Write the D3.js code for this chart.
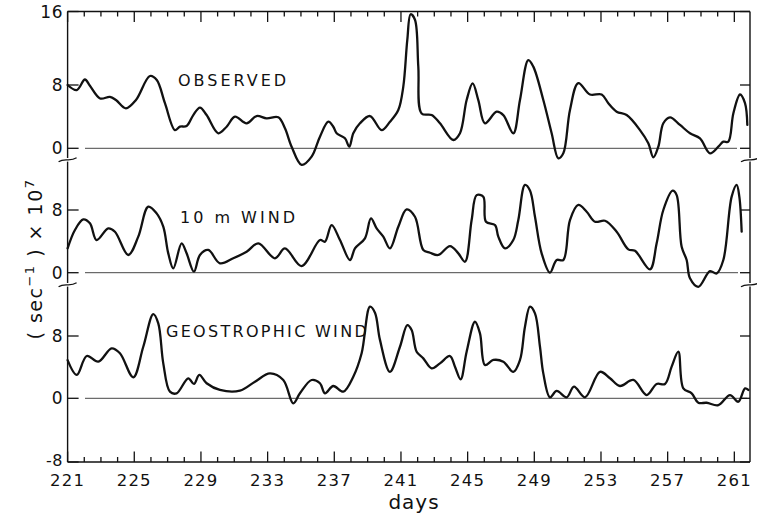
<!DOCTYPE html>
<html><head><meta charset="utf-8">
<script src="https://cdn.jsdelivr.net/npm/d3@7"></script>
<style>
html,body{margin:0;padding:0;background:#fff;}
text{font-family:"DejaVu Sans",sans-serif;fill:#111;}
</style></head>
<body>
<svg id="c" width="757" height="516"></svg>
<script>
// ---- data ----
const xTickLabels = [221,225,229,233,237,241,245,249,253,257,261];
const panelNames = ["OBSERVED","10 m WIND","GEOSTROPHIC WIND"];
const topTicks = [0,8,16];
const midTicks = [0,8];
const botTicks = [-8,0,8];

const observed = [[221,8.0],[221.55,7.35],[222.04,8.6],[222.34,7.9],[222.95,6.3],[223.54,6.5],[223.9,6.1],[224.5,5.05],[225.1,6.1],[225.94,8.98],[226.35,8.54],[226.84,5.7],[227.44,2.3],[227.74,2.73],[228.14,2.82],[228.54,4.2],[228.94,5.15],[229.34,4.2],[230.04,1.9],[230.54,2.73],[231.04,4.0],[231.74,3.16],[232.34,4.08],[232.94,3.79],[233.64,3.92],[234.04,2.53],[234.44,0.2],[235.04,-2.1],[235.64,-1.06],[236.14,1.47],[236.64,3.36],[236.94,2.73],[237.14,1.9],[237.64,1.26],[237.9,0.2],[238.14,1.9],[238.54,3.16],[239.14,4.08],[239.84,2.3],[240.34,3.36],[240.84,4.84],[241.14,7.8],[241.38,12.9],[241.58,15.7],[241.84,15.1],[242.04,10],[242.24,4.4],[242.84,4.2],[243.34,3.16],[244.14,1.05],[244.54,1.9],[244.94,6.1],[245.3,8.18],[245.64,6.1],[246.04,3.16],[246.74,4.63],[247.14,4.2],[247.74,1.9],[248.14,6.1],[248.64,10.7],[248.94,10],[249.54,6.1],[250.04,1.9],[250.44,-1.26],[250.74,-0.63],[251.14,4.84],[251.64,8.2],[252.34,6.8],[253.04,6.8],[253.44,5.7],[253.94,4.63],[254.54,4.2],[255.34,2.3],[255.84,0.63],[256.14,-1.14],[256.44,0.2],[256.74,3.16],[257.14,3.92],[257.74,2.95],[258.34,1.9],[258.94,1.26],[259.54,-0.63],[260.04,0.2],[260.34,0.84],[260.64,0.84],[260.94,4.4],[261.34,6.8],[261.64,5.7],[261.78,2.95]];

const wind10m = [[221,3.1],[221.44,5.45],[221.94,6.8],[222.34,6.3],[222.74,4.17],[223.44,5.66],[223.84,5.23],[224.64,2.26],[225.24,4.6],[225.84,8.42],[226.34,7.57],[226.74,5.87],[227.04,2.47],[227.34,0.56],[227.84,3.75],[228.14,2.47],[228.58,0.13],[228.94,2.26],[229.44,2.9],[230.14,1.2],[230.94,1.84],[231.74,2.68],[232.44,3.75],[233.44,1.84],[234.04,3.1],[235.04,0.85],[236.14,4.17],[236.44,3.96],[236.84,6.08],[237.34,4.17],[237.94,1.62],[238.24,3.1],[238.84,4.39],[239.2,6.94],[239.54,5.66],[239.94,4.6],[240.34,3.1],[240.84,5.87],[241.34,8.08],[241.84,7.14],[242.34,2.9],[242.74,2.55],[243.24,2.26],[243.94,3.4],[244.44,2.47],[244.84,1.4],[245.24,6.72],[245.54,9.9],[245.94,9.7],[246.1,6.5],[246.64,6.08],[246.84,4.6],[247.24,3.1],[247.74,4.17],[248.04,6.72],[248.44,11.2],[248.74,10.5],[249.04,7.14],[249.44,2.47],[249.94,0],[250.34,1.62],[250.74,1.62],[251.14,6.72],[251.64,8.64],[252.14,7.78],[252.64,6.5],[253.24,6.63],[253.94,5.23],[254.64,2.98],[255.04,2.8],[255.94,0.43],[256.34,3.75],[256.74,8.0],[257.3,10.46],[257.54,9.9],[257.84,3.3],[258.14,1.62],[258.34,-0.72],[258.84,-1.8],[259.54,0.2],[259.94,-0.1],[260.34,1.62],[260.84,9.7],[261.14,11.2],[261.3,9.7],[261.44,5.23]];

const geostrophic = [[221,4.9],[221.55,3.0],[222.15,5.43],[222.84,4.7],[223.64,6.42],[224.14,5.78],[224.94,2.7],[225.54,6.62],[226.14,10.82],[226.44,9.63],[226.74,4.49],[227.14,0.85],[227.54,0.64],[228.24,2.57],[228.58,1.84],[228.9,3.0],[229.34,1.93],[230.14,1.07],[231.34,0.98],[232.24,2.13],[233.14,3.2],[233.94,2.35],[234.54,-0.64],[234.94,0.64],[235.64,2.35],[236.14,1.93],[236.44,0.64],[236.94,1.58],[237.54,0.85],[238.14,2.77],[238.64,5.78],[239.14,11.76],[239.44,11.0],[239.74,7.5],[240.34,3.4],[240.94,6.62],[241.38,9.4],[241.64,8.77],[241.94,5.98],[242.34,5.13],[242.84,3.85],[243.34,4.49],[243.94,5.43],[244.24,4.06],[244.58,2.44],[244.94,5.98],[245.44,9.83],[245.74,8.34],[246.04,4.27],[246.54,4.92],[247.14,4.7],[247.74,3.4],[248.14,4.92],[248.44,9.2],[248.74,11.76],[249.04,10.9],[249.34,6.62],[249.54,3.2],[249.94,0.13],[250.34,0.94],[250.94,0.13],[251.38,1.5],[252.04,0.13],[252.94,3.4],[253.54,2.57],[254.14,1.58],[254.94,2.35],[255.74,0.42],[256.34,1.84],[256.84,1.84],[257.24,4.06],[257.64,5.98],[257.94,1.28],[258.44,0.64],[258.84,-0.56],[259.34,-0.56],[260.04,-0.86],[260.74,0.42],[261.24,-0.43],[261.64,1.28],[261.84,1.07]];

// ---- layout ----
const svg = d3.select("#c");
const L = 67.6, R = 750, T = 11.5, B = 462;
const x = d3.scaleLinear().domain([221, 261.94]).range([L, R]);

const panels = [
  {name: panelNames[0], data: observed, ticks: topTicks,
   y: d3.scaleLinear().domain([0, 8, 16]).range([148.3, 85, T]),
   label: {x: 178, y: 86, ls: 3}, zeroEnd: 737},
  {name: panelNames[1], data: wind10m, ticks: midTicks,
   y: d3.scaleLinear().domain([0, 8]).range([272.7, 210]),
   label: {x: 180, y: 222.7, ls: 3}, zeroEnd: 738},
  {name: panelNames[2], data: geostrophic, ticks: botTicks,
   y: d3.scaleLinear().domain([-8, 0, 8]).range([B, 398.3, 336]),
   label: {x: 166, y: 337.3, ls: 2.3}, zeroEnd: 747}
];

const ink = "#111";
const breaks = [159.8, 284.8];

// frame top & bottom
svg.append("line").attr("x1", L).attr("x2", R).attr("y1", T).attr("y2", T)
  .attr("stroke", ink).attr("stroke-width", 1.4);
svg.append("line").attr("x1", L).attr("x2", R).attr("y1", B).attr("y2", B)
  .attr("stroke", ink).attr("stroke-width", 1.4);

// side axes broken at panel boundaries
const segs = [[T, breaks[0] - 1.8], [breaks[0] + 1.8, breaks[1] - 1.8], [breaks[1] + 1.8, B]];
[L, R].forEach(ax => {
  segs.forEach(s => svg.append("line").attr("x1", ax).attr("x2", ax)
    .attr("y1", s[0]).attr("y2", s[1]).attr("stroke", ink).attr("stroke-width", 1.4));
  breaks.forEach(by => svg.append("path")
    .attr("d", `M${ax - 9},${by + 2} C${ax - 3},${by - 2.5} ${ax + 2},${by + 2.5} ${ax + 9},${by - 2}`)
    .attr("fill", "none").attr("stroke", ink).attr("stroke-width", 1.3));
});

// x ticks (inward) on top and bottom
const dayTicks = d3.range(221, 262, 1);
dayTicks.forEach(d => {
  const major = (d - 221) % 4 === 0;
  const len = major ? 10.5 : 5;
  svg.append("line").attr("x1", x(d)).attr("x2", x(d)).attr("y1", T).attr("y2", T + len)
    .attr("stroke", ink).attr("stroke-width", 1.3);
  svg.append("line").attr("x1", x(d)).attr("x2", x(d)).attr("y1", B).attr("y2", B - len)
    .attr("stroke", ink).attr("stroke-width", 1.3);
});
svg.selectAll("text.xt").data(xTickLabels).enter().append("text")
  .attr("class", "xt").attr("x", d => x(d)).attr("y", 486)
  .attr("text-anchor", "middle").attr("font-size", 16.5).attr("letter-spacing", 1.2)
  .text(d => d);

svg.append("text").attr("x", 414).attr("y", 509).attr("text-anchor", "middle")
  .attr("font-size", 20).attr("letter-spacing", 1).text("days");

// y label
const yl = svg.append("text").attr("transform", "translate(42,259) rotate(-90)")
  .attr("text-anchor", "middle").attr("font-size", 19).attr("letter-spacing", 1.5);
yl.append("tspan").text("( sec");
yl.append("tspan").attr("font-size", 13).attr("dy", -8).text("−1");
yl.append("tspan").attr("dy", 8).text(" ) × 10");
yl.append("tspan").attr("font-size", 13).attr("dy", -8).text("7");

const line = d3.line().x(d => x(d[0])).curve(d3.curveCatmullRom.alpha(0.5));

panels.forEach(p => {
  const y = p.y;
  // zero line
  svg.append("line").attr("x1", 85).attr("x2", p.zeroEnd).attr("y1", y(0)).attr("y2", y(0))
    .attr("stroke", "#333").attr("stroke-width", 0.9);
  // y ticks + labels
  p.ticks.forEach(t => {
    svg.append("line").attr("x1", L).attr("x2", L + 11).attr("y1", y(t)).attr("y2", y(t))
      .attr("stroke", ink).attr("stroke-width", 1.3);
    svg.append("line").attr("x1", R).attr("x2", R - 10).attr("y1", y(t)).attr("y2", y(t))
      .attr("stroke", ink).attr("stroke-width", 1.3);
    svg.append("text").attr("x", 63).attr("y", y(t) - (t === -8 ? 1.5 : 0)).attr("dy", "0.36em")
      .attr("text-anchor", "end").attr("font-size", t === -8 ? 16 : 17).attr("letter-spacing", 0.5)
      .text(t < 0 ? "-" + Math.abs(t) : t);
  });
  // series
  svg.append("path").datum(p.data)
    .attr("d", line.y(d => y(d[1])))
    .attr("fill", "none").attr("stroke", ink).attr("stroke-width", 2.3)
    .attr("stroke-linejoin", "round").attr("stroke-linecap", "round");
  // label
  svg.append("text").attr("x", p.label.x).attr("y", p.label.y)
    .attr("font-size", 16).attr("letter-spacing", p.label.ls).text(p.name);
});
</script>
</body></html>
